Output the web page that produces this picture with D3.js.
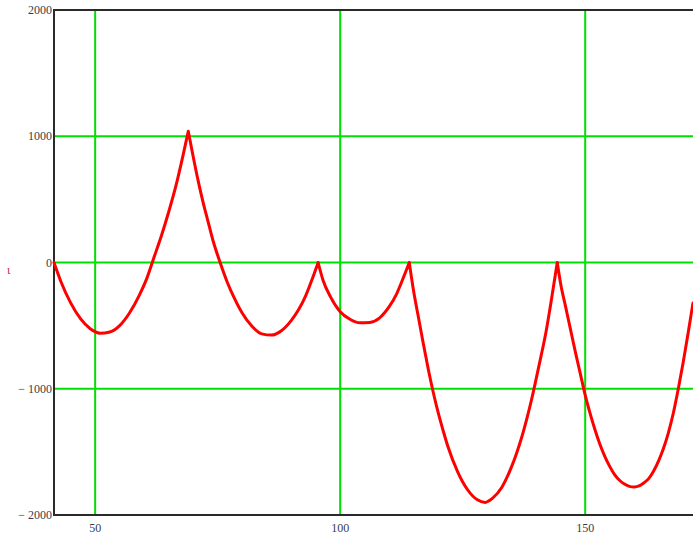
<!DOCTYPE html>
<html lang="en">
<head>
    <meta charset="UTF-8">
    <title>Curve</title>
    <style>
        body { margin: 0; background: #fff; }
        .tick-label { font-family: "Liberation Serif", serif; font-size: 12px; fill: #3a3a4a; }
    </style>
</head>
<body>
<div id="chart"></div>
<script src="https://d3js.org/d3.v7.min.js"></script>
<script>
    // data
    var xs = [41.6, 43, 45, 47, 49, 51, 53, 55, 57, 59, 60.5, 62, 63.5, 65, 66.5, 68, 69,
        70, 71, 72, 73, 74, 75.5, 77, 78.5, 80, 82, 84, 86, 88, 90, 91.5, 93, 94.3, 95.5,
        96.5, 98, 100, 102, 104, 106, 108, 110, 111.5, 113, 114.1,
        115, 116, 117, 118, 119, 120, 121, 122, 124, 126, 128, 129.6, 131, 133, 135, 136, 137, 138, 139, 140, 141, 142, 143, 144.3,
        145, 146, 147, 148, 149, 150, 151, 152, 153, 154, 155, 156, 157, 158, 159, 160, 161, 162, 163, 164, 165, 166, 167, 168, 169, 170, 171, 172];
    var ys = [0, -150, -320, -445, -525, -560, -550, -500, -400, -260, -130, 40, 210, 400, 610, 860, 1040,
        840, 650, 480, 330, 180, 0, -160, -290, -400, -505, -565, -575, -540, -460, -375, -260, -130, 0,
        -140, -270, -390, -450, -478, -475, -440, -350, -250, -110, 0,
        -230, -440, -650, -850, -1030, -1190, -1330, -1460, -1660, -1800, -1880, -1900, -1870, -1780, -1615, -1510, -1390, -1250, -1095, -920, -740, -550, -320, 0,
        -170, -350, -530, -710, -880, -1050, -1195, -1325, -1440, -1535, -1615, -1680, -1725, -1755, -1773, -1778, -1770, -1745, -1710, -1650, -1570, -1470, -1345, -1190, -1000, -790, -560, -320];
    // sharp corners of the curve
    var cuspX = [69, 95.5, 114.1, 144.3];

    var xTicks = [50, 100, 150];
    var yTicks = [2000, 1000, 0, -1000, -2000];
    var yLabels = ["2000", "1000", "0", "\u2212 1000", "\u2212 2000"];
    var gridY = [1000, 0, -1000];

    var width = 693, height = 540;
    var mLeft = 54, mTop = 10, mBottom = 515;

    var svg = d3.select("#chart").append("svg")
        .attr("width", width)
        .attr("height", height);

    var x = d3.scaleLinear().domain([41.6, 172]).range([mLeft, 693]);
    var y = d3.scaleLinear().domain([-2000, 2000]).range([mBottom, mTop]);

    // green grid
    svg.selectAll(".vgrid")
        .data(xTicks)
        .enter()
        .append("line")
        .attr("x1", function(d) { return x(d); })
        .attr("x2", function(d) { return x(d); })
        .attr("y1", mTop)
        .attr("y2", mBottom)
        .attr("stroke", "#00e000")
        .attr("stroke-width", 2);

    svg.selectAll(".hgrid")
        .data(gridY)
        .enter()
        .append("line")
        .attr("x1", mLeft)
        .attr("x2", width)
        .attr("y1", function(d) { return y(d); })
        .attr("y2", function(d) { return y(d); })
        .attr("stroke", "#00e000")
        .attr("stroke-width", 2);

    // frame
    svg.append("path")
        .attr("d", "M" + width + "," + mTop + "H" + mLeft + "V" + mBottom + "H" + width)
        .attr("fill", "none")
        .attr("stroke", "#2a2a2a")
        .attr("stroke-width", 2);

    // curve, split into smooth arcs at the cusps
    var segments = [[]];
    xs.forEach(function(d, i) {
        var p = [d, ys[i]];
        segments[segments.length - 1].push(p);
        if (cuspX.indexOf(d) >= 0) segments.push([p]);
    });

    var line = d3.line()
        .x(function(d) { return x(d[0]); })
        .y(function(d) { return y(d[1]); })
        .curve(d3.curveMonotoneX);

    svg.append("path")
        .attr("d", segments.map(function(s) { return line(s); }).join(""))
        .attr("fill", "none")
        .attr("stroke", "#ff0000")
        .attr("stroke-width", 3)
        .attr("stroke-linejoin", "round")
        .attr("stroke-linecap", "round");

    // tick labels
    svg.selectAll(".ylab")
        .data(yTicks)
        .enter()
        .append("text")
        .attr("class", "tick-label")
        .attr("x", mLeft - 2)
        .attr("y", function(d) { return y(d) + 4; })
        .attr("text-anchor", "end")
        .text(function(d, i) { return yLabels[i]; });

    svg.selectAll(".xlab")
        .data(xTicks)
        .enter()
        .append("text")
        .attr("class", "tick-label")
        .attr("x", function(d) { return x(d); })
        .attr("y", mBottom + 17)
        .attr("text-anchor", "middle")
        .text(function(d) { return d; });

    // y axis name
    svg.append("text")
        .attr("x", 7)
        .attr("y", 274)
        .attr("font-family", "Liberation Serif, serif")
        .attr("font-size", 12)
        .attr("fill", "#c03030")
        .text("ι");
</script>
</body>
</html>
